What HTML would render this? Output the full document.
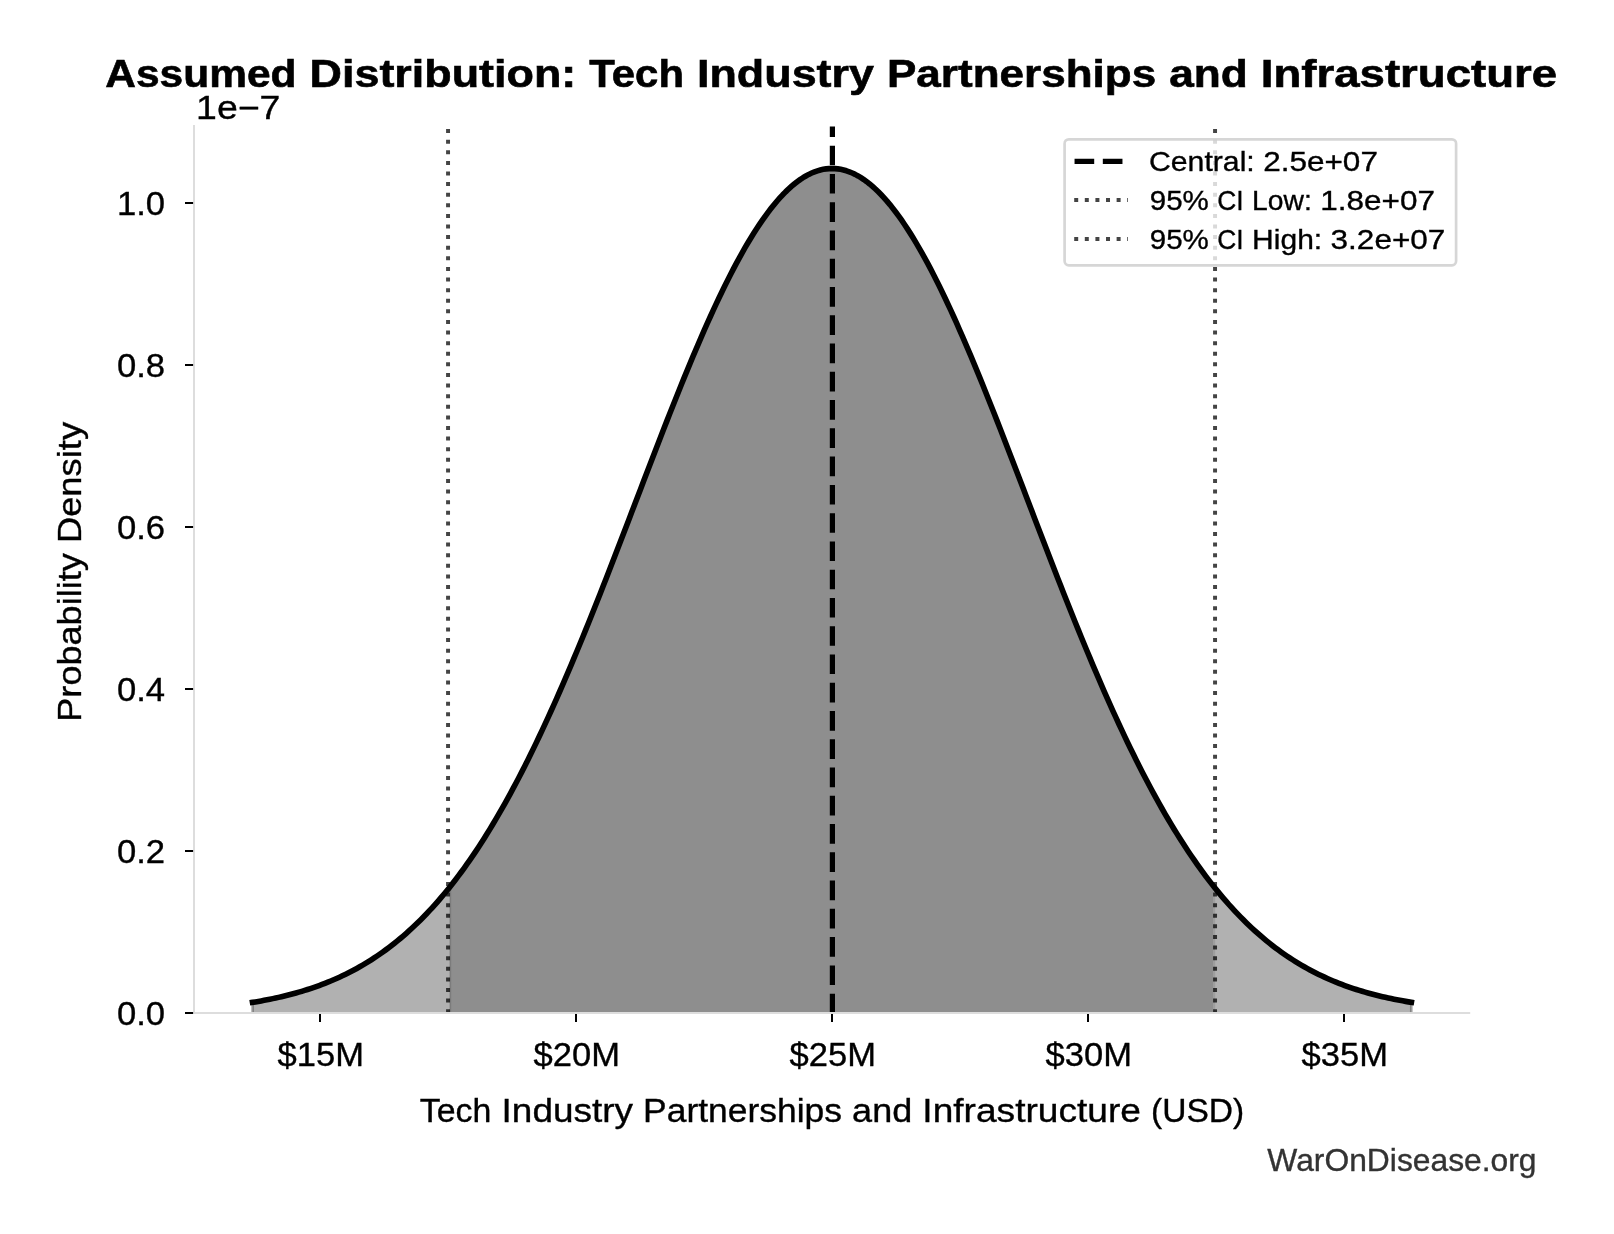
<!DOCTYPE html>
<html lang="en"><head><meta charset="utf-8"><title>Assumed Distribution: Tech Industry Partnerships and Infrastructure</title>
<style>html,body{margin:0;padding:0;background:#fff;}body{width:1614px;height:1234px;overflow:hidden;}svg{display:block;will-change:transform;}text{font-family:"Liberation Sans",sans-serif;fill:#000;stroke:#000;stroke-width:0.35px;}text.b{stroke-width:0.6px;}text.w{stroke:#333;}</style></head><body>
<svg width="1614" height="1234" viewBox="0 0 1614 1234">
<rect width="1614" height="1234" fill="#ffffff"/>
<path d="M251.20,1002.36 L252.50,1002.36 L255.40,1001.89 L258.29,1001.40 L261.19,1000.89 L264.09,1000.35 L266.99,999.80 L269.88,999.23 L272.78,998.63 L275.68,998.01 L278.58,997.37 L281.47,996.71 L284.37,996.02 L287.27,995.30 L290.16,994.56 L293.06,993.80 L295.96,993.00 L298.86,992.18 L301.75,991.32 L304.65,990.44 L307.55,989.53 L310.44,988.58 L313.34,987.61 L316.24,986.59 L319.14,985.55 L322.03,984.47 L324.93,983.35 L327.83,982.20 L330.73,981.01 L333.62,979.78 L336.52,978.51 L339.42,977.20 L342.31,975.84 L345.21,974.45 L348.11,973.01 L351.01,971.53 L353.90,970.00 L356.80,968.42 L359.70,966.80 L362.60,965.13 L365.49,963.41 L368.39,961.64 L371.29,959.81 L374.18,957.94 L377.08,956.01 L379.98,954.02 L382.88,951.98 L385.77,949.89 L388.67,947.73 L391.57,945.52 L394.47,943.24 L397.36,940.91 L400.26,938.51 L403.16,936.05 L406.05,933.53 L408.95,930.94 L411.85,928.29 L414.75,925.57 L417.64,922.78 L420.54,919.93 L423.44,917.00 L426.34,914.01 L429.23,910.94 L432.13,907.80 L435.03,904.59 L437.92,901.30 L440.82,897.94 L443.72,894.51 L446.62,891.00 L449.51,887.41 L452.41,883.75 L455.31,880.00 L458.20,876.18 L461.10,872.28 L464.00,868.30 L466.90,864.24 L469.79,860.10 L472.69,855.88 L475.59,851.58 L478.49,847.20 L481.38,842.73 L484.28,838.19 L487.18,833.56 L490.07,828.84 L492.97,824.05 L495.87,819.17 L498.77,814.21 L501.66,809.17 L504.56,804.05 L507.46,798.85 L510.36,793.56 L513.25,788.19 L516.15,782.74 L519.05,777.21 L521.94,771.60 L524.84,765.91 L527.74,760.14 L530.64,754.30 L533.53,748.37 L536.43,742.37 L539.33,736.30 L542.23,730.15 L545.12,723.93 L548.02,717.63 L550.92,711.26 L553.81,704.83 L556.71,698.32 L559.61,691.75 L562.51,685.11 L565.40,678.41 L568.30,671.65 L571.20,664.82 L574.09,657.94 L576.99,651.00 L579.89,644.00 L582.79,636.96 L585.68,629.86 L588.58,622.71 L591.48,615.52 L594.38,608.28 L597.27,601.00 L600.17,593.68 L603.07,586.32 L605.96,578.93 L608.86,571.51 L611.76,564.06 L614.66,556.59 L617.55,549.09 L620.45,541.57 L623.35,534.03 L626.25,526.48 L629.14,518.92 L632.04,511.35 L634.94,503.78 L637.83,496.21 L640.73,488.63 L643.63,481.07 L646.53,473.51 L649.42,465.96 L652.32,458.43 L655.22,450.92 L658.12,443.43 L661.01,435.97 L663.91,428.54 L666.81,421.14 L669.70,413.78 L672.60,406.46 L675.50,399.19 L678.40,391.96 L681.29,384.79 L684.19,377.67 L687.09,370.61 L689.98,363.62 L692.88,356.69 L695.78,349.83 L698.68,343.05 L701.57,336.35 L704.47,329.73 L707.37,323.20 L710.27,316.75 L713.16,310.40 L716.06,304.15 L718.96,298.00 L721.85,291.95 L724.75,286.01 L727.65,280.18 L730.55,274.47 L733.44,268.87 L736.34,263.40 L739.24,258.05 L742.14,252.83 L745.03,247.74 L747.93,242.78 L750.83,237.96 L753.72,233.28 L756.62,228.75 L759.52,224.36 L762.42,220.12 L765.31,216.03 L768.21,212.10 L771.11,208.32 L774.01,204.70 L776.90,201.24 L779.80,197.95 L782.70,194.82 L785.59,191.86 L788.49,189.07 L791.39,186.45 L794.29,184.00 L797.18,181.73 L800.08,179.63 L802.98,177.72 L805.87,175.98 L808.77,174.41 L811.67,173.03 L814.57,171.84 L817.46,170.82 L820.36,169.99 L823.26,169.34 L826.16,168.88 L829.05,168.60 L831.95,168.50 L834.85,168.59 L837.74,168.86 L840.64,169.32 L843.54,169.96 L846.44,170.79 L849.33,171.80 L852.23,172.99 L855.13,174.36 L858.03,175.92 L860.92,177.65 L863.82,179.57 L866.72,181.66 L869.61,183.92 L872.51,186.36 L875.41,188.98 L878.31,191.76 L881.20,194.72 L884.10,197.84 L887.00,201.13 L889.90,204.58 L892.79,208.19 L895.69,211.96 L898.59,215.89 L901.48,219.98 L904.38,224.21 L907.28,228.59 L910.18,233.12 L913.07,237.80 L915.97,242.61 L918.87,247.56 L921.76,252.65 L924.66,257.87 L927.56,263.21 L930.46,268.68 L933.35,274.27 L936.25,279.98 L939.15,285.81 L942.05,291.74 L944.94,297.79 L947.84,303.94 L950.74,310.19 L953.63,316.53 L956.53,322.97 L959.43,329.51 L962.33,336.12 L965.22,342.82 L968.12,349.60 L971.02,356.45 L973.92,363.38 L976.81,370.37 L979.71,377.42 L982.61,384.54 L985.50,391.71 L988.40,398.94 L991.30,406.21 L994.20,413.53 L997.09,420.89 L999.99,428.28 L1002.89,435.71 L1005.78,443.17 L1008.68,450.66 L1011.58,458.17 L1014.48,465.70 L1017.37,473.25 L1020.27,480.81 L1023.17,488.37 L1026.07,495.95 L1028.96,503.52 L1031.86,511.09 L1034.76,518.66 L1037.65,526.22 L1040.55,533.77 L1043.45,541.31 L1046.35,548.83 L1049.24,556.33 L1052.14,563.81 L1055.04,571.26 L1057.94,578.68 L1060.83,586.07 L1063.73,593.43 L1066.63,600.75 L1069.52,608.03 L1072.42,615.27 L1075.32,622.46 L1078.22,629.61 L1081.11,636.71 L1084.01,643.76 L1086.91,650.76 L1089.81,657.70 L1092.70,664.59 L1095.60,671.41 L1098.50,678.18 L1101.39,684.88 L1104.29,691.52 L1107.19,698.10 L1110.09,704.60 L1112.98,711.04 L1115.88,717.41 L1118.78,723.71 L1121.67,729.94 L1124.57,736.09 L1127.47,742.17 L1130.37,748.17 L1133.26,754.09 L1136.16,759.94 L1139.06,765.71 L1141.96,771.41 L1144.85,777.02 L1147.75,782.55 L1150.65,788.00 L1153.54,793.37 L1156.44,798.66 L1159.34,803.87 L1162.24,809.00 L1165.13,814.04 L1168.03,819.00 L1170.93,823.88 L1173.83,828.68 L1176.72,833.39 L1179.62,838.03 L1182.52,842.58 L1185.41,847.05 L1188.31,851.43 L1191.21,855.74 L1194.11,859.96 L1197.00,864.10 L1199.90,868.16 L1202.80,872.15 L1205.70,876.05 L1208.59,879.87 L1211.49,883.62 L1214.39,887.29 L1217.28,890.88 L1220.18,894.39 L1223.08,897.83 L1225.98,901.19 L1228.87,904.48 L1231.77,907.69 L1234.67,910.83 L1237.57,913.90 L1240.46,916.90 L1243.36,919.83 L1246.26,922.69 L1249.15,925.48 L1252.05,928.20 L1254.95,930.85 L1257.85,933.44 L1260.74,935.97 L1263.64,938.43 L1266.54,940.83 L1269.43,943.16 L1272.33,945.44 L1275.23,947.66 L1278.13,949.81 L1281.02,951.91 L1283.92,953.95 L1286.82,955.94 L1289.72,957.87 L1292.61,959.75 L1295.51,961.58 L1298.41,963.35 L1301.30,965.07 L1304.20,966.74 L1307.10,968.37 L1310.00,969.95 L1312.89,971.48 L1315.79,972.96 L1318.69,974.40 L1321.59,975.80 L1324.48,977.15 L1327.38,978.46 L1330.28,979.73 L1333.17,980.97 L1336.07,982.16 L1338.97,983.31 L1341.87,984.43 L1344.76,985.51 L1347.66,986.56 L1350.56,987.57 L1353.46,988.55 L1356.35,989.50 L1359.25,990.41 L1362.15,991.29 L1365.04,992.15 L1367.94,992.97 L1370.84,993.77 L1373.74,994.54 L1376.63,995.28 L1379.53,995.99 L1382.43,996.68 L1385.32,997.35 L1388.22,997.99 L1391.12,998.61 L1394.02,999.21 L1396.91,999.78 L1399.81,1000.33 L1402.71,1000.87 L1405.61,1001.38 L1408.50,1001.87 L1411.40,1002.35 L1412.70,1002.35 L1412.70,1013.0 L251.20,1013.0 Z" fill="#b1b1b1"/>
<path d="M449.70,887.18 L452.24,883.96 L454.79,880.68 L457.33,877.34 L459.88,873.94 L462.42,870.48 L464.97,866.96 L467.51,863.37 L470.05,859.73 L472.60,856.02 L475.14,852.25 L477.69,848.41 L480.23,844.52 L482.78,840.56 L485.32,836.53 L487.87,832.45 L490.41,828.29 L492.95,824.08 L495.50,819.80 L498.04,815.46 L500.59,811.06 L503.13,806.59 L505.68,802.06 L508.22,797.46 L510.76,792.81 L513.31,788.09 L515.85,783.30 L518.40,778.46 L520.94,773.55 L523.49,768.58 L526.03,763.56 L528.57,758.47 L531.12,753.32 L533.66,748.11 L536.21,742.84 L538.75,737.51 L541.30,732.13 L543.84,726.69 L546.38,721.19 L548.93,715.64 L551.47,710.03 L554.02,704.37 L556.56,698.66 L559.11,692.89 L561.65,687.08 L564.19,681.21 L566.74,675.30 L569.28,669.34 L571.83,663.33 L574.37,657.28 L576.92,651.18 L579.46,645.04 L582.01,638.86 L584.55,632.64 L587.09,626.38 L589.64,620.09 L592.18,613.76 L594.73,607.40 L597.27,601.00 L599.82,594.58 L602.36,588.12 L604.90,581.64 L607.45,575.14 L609.99,568.61 L612.54,562.06 L615.08,555.49 L617.63,548.90 L620.17,542.30 L622.71,535.68 L625.26,529.06 L627.80,522.42 L630.35,515.78 L632.89,509.13 L635.44,502.48 L637.98,495.82 L640.52,489.17 L643.07,482.53 L645.61,475.89 L648.16,469.26 L650.70,462.64 L653.25,456.03 L655.79,449.44 L658.34,442.86 L660.88,436.31 L663.42,429.78 L665.97,423.28 L668.51,416.80 L671.06,410.36 L673.60,403.94 L676.15,397.57 L678.69,391.23 L681.23,384.93 L683.78,378.68 L686.32,372.47 L688.87,366.31 L691.41,360.20 L693.96,354.14 L696.50,348.14 L699.04,342.20 L701.59,336.32 L704.13,330.50 L706.68,324.75 L709.22,319.07 L711.77,313.45 L714.31,307.92 L716.86,302.45 L719.40,297.07 L721.94,291.77 L724.49,286.55 L727.03,281.41 L729.58,276.37 L732.12,271.41 L734.67,266.55 L737.21,261.78 L739.75,257.11 L742.30,252.54 L744.84,248.07 L747.39,243.70 L749.93,239.44 L752.48,235.28 L755.02,231.24 L757.56,227.30 L760.11,223.48 L762.65,219.78 L765.20,216.19 L767.74,212.72 L770.29,209.38 L772.83,206.15 L775.37,203.05 L777.92,200.07 L780.46,197.22 L783.01,194.50 L785.55,191.90 L788.10,189.44 L790.64,187.11 L793.18,184.91 L795.73,182.85 L798.27,180.92 L800.82,179.13 L803.36,177.47 L805.91,175.96 L808.45,174.58 L811.00,173.34 L813.54,172.24 L816.08,171.28 L818.63,170.46 L821.17,169.79 L823.72,169.25 L826.26,168.86 L828.81,168.61 L831.35,168.50 L833.89,168.54 L836.44,168.72 L838.98,169.04 L841.53,169.50 L844.07,170.10 L846.62,170.85 L849.16,171.73 L851.70,172.76 L854.25,173.93 L856.79,175.24 L859.34,176.68 L861.88,178.27 L864.43,179.99 L866.97,181.85 L869.51,183.84 L872.06,185.97 L874.60,188.23 L877.15,190.63 L879.69,193.16 L882.24,195.81 L884.78,198.60 L887.33,201.51 L889.87,204.55 L892.41,207.71 L894.96,211.00 L897.50,214.41 L900.05,217.93 L902.59,221.58 L905.14,225.34 L907.68,229.21 L910.22,233.20 L912.77,237.30 L915.31,241.51 L917.86,245.82 L920.40,250.24 L922.95,254.76 L925.49,259.38 L928.03,264.10 L930.58,268.91 L933.12,273.82 L935.67,278.82 L938.21,283.91 L940.76,289.09 L943.30,294.35 L945.85,299.69 L948.39,305.11 L950.93,310.61 L953.48,316.19 L956.02,321.84 L958.57,327.55 L961.11,333.34 L963.66,339.19 L966.20,345.10 L968.74,351.07 L971.29,357.10 L973.83,363.18 L976.38,369.31 L978.92,375.50 L981.47,381.73 L984.01,388.01 L986.55,394.32 L989.10,400.68 L991.64,407.08 L994.19,413.51 L996.73,419.97 L999.28,426.46 L1001.82,432.97 L1004.36,439.51 L1006.91,446.08 L1009.45,452.66 L1012.00,459.26 L1014.54,465.87 L1017.09,472.50 L1019.63,479.13 L1022.17,485.78 L1024.72,492.43 L1027.26,499.08 L1029.81,505.73 L1032.35,512.38 L1034.90,519.03 L1037.44,525.67 L1039.99,532.30 L1042.53,538.92 L1045.07,545.53 L1047.62,552.12 L1050.16,558.70 L1052.71,565.26 L1055.25,571.80 L1057.80,578.32 L1060.34,584.81 L1062.88,591.28 L1065.43,597.72 L1067.97,604.13 L1070.52,610.51 L1073.06,616.86 L1075.61,623.17 L1078.15,629.45 L1080.69,635.69 L1083.24,641.89 L1085.78,648.05 L1088.33,654.17 L1090.87,660.24 L1093.42,666.27 L1095.96,672.26 L1098.50,678.20 L1101.05,684.09 L1103.59,689.93 L1106.14,695.72 L1108.68,701.46 L1111.23,707.15 L1113.77,712.78 L1116.32,718.36 L1118.86,723.89 L1121.40,729.36 L1123.95,734.77 L1126.49,740.13 L1129.04,745.42 L1131.58,750.66 L1134.13,755.84 L1136.67,760.96 L1139.21,766.02 L1141.76,771.02 L1144.30,775.96 L1146.85,780.84 L1149.39,785.65 L1151.94,790.40 L1154.48,795.09 L1157.02,799.72 L1159.57,804.28 L1162.11,808.78 L1164.66,813.22 L1167.20,817.59 L1169.75,821.90 L1172.29,826.15 L1174.84,830.33 L1177.38,834.45 L1179.92,838.51 L1182.47,842.50 L1185.01,846.43 L1187.56,850.30 L1190.10,854.10 L1192.65,857.84 L1195.19,861.52 L1197.73,865.13 L1200.28,868.69 L1202.82,872.18 L1205.37,875.61 L1207.91,878.98 L1210.46,882.29 L1213.00,885.54 L1213.00,1013.0 L449.70,1013.0 Z" fill="#8e8e8e"/>
<path d="M253.20,1002.36 V1013.0" stroke="#828282" stroke-width="1.5" fill="none"/>
<path d="M1410.70,1002.35 V1013.0" stroke="#828282" stroke-width="1.5" fill="none"/>
<path d="M450.50,886.17 V1013.0" stroke="#7c7c7c" stroke-width="1.5" fill="none"/>
<path d="M1214.10,886.93 V1013.0" stroke="#9e9e9e" stroke-width="2.2" fill="none"/>
<path d="M252.50,1002.36 L255.40,1001.89 L258.29,1001.40 L261.19,1000.89 L264.09,1000.35 L266.99,999.80 L269.88,999.23 L272.78,998.63 L275.68,998.01 L278.58,997.37 L281.47,996.71 L284.37,996.02 L287.27,995.30 L290.16,994.56 L293.06,993.80 L295.96,993.00 L298.86,992.18 L301.75,991.32 L304.65,990.44 L307.55,989.53 L310.44,988.58 L313.34,987.61 L316.24,986.59 L319.14,985.55 L322.03,984.47 L324.93,983.35 L327.83,982.20 L330.73,981.01 L333.62,979.78 L336.52,978.51 L339.42,977.20 L342.31,975.84 L345.21,974.45 L348.11,973.01 L351.01,971.53 L353.90,970.00 L356.80,968.42 L359.70,966.80 L362.60,965.13 L365.49,963.41 L368.39,961.64 L371.29,959.81 L374.18,957.94 L377.08,956.01 L379.98,954.02 L382.88,951.98 L385.77,949.89 L388.67,947.73 L391.57,945.52 L394.47,943.24 L397.36,940.91 L400.26,938.51 L403.16,936.05 L406.05,933.53 L408.95,930.94 L411.85,928.29 L414.75,925.57 L417.64,922.78 L420.54,919.93 L423.44,917.00 L426.34,914.01 L429.23,910.94 L432.13,907.80 L435.03,904.59 L437.92,901.30 L440.82,897.94 L443.72,894.51 L446.62,891.00 L449.51,887.41 L452.41,883.75 L455.31,880.00 L458.20,876.18 L461.10,872.28 L464.00,868.30 L466.90,864.24 L469.79,860.10 L472.69,855.88 L475.59,851.58 L478.49,847.20 L481.38,842.73 L484.28,838.19 L487.18,833.56 L490.07,828.84 L492.97,824.05 L495.87,819.17 L498.77,814.21 L501.66,809.17 L504.56,804.05 L507.46,798.85 L510.36,793.56 L513.25,788.19 L516.15,782.74 L519.05,777.21 L521.94,771.60 L524.84,765.91 L527.74,760.14 L530.64,754.30 L533.53,748.37 L536.43,742.37 L539.33,736.30 L542.23,730.15 L545.12,723.93 L548.02,717.63 L550.92,711.26 L553.81,704.83 L556.71,698.32 L559.61,691.75 L562.51,685.11 L565.40,678.41 L568.30,671.65 L571.20,664.82 L574.09,657.94 L576.99,651.00 L579.89,644.00 L582.79,636.96 L585.68,629.86 L588.58,622.71 L591.48,615.52 L594.38,608.28 L597.27,601.00 L600.17,593.68 L603.07,586.32 L605.96,578.93 L608.86,571.51 L611.76,564.06 L614.66,556.59 L617.55,549.09 L620.45,541.57 L623.35,534.03 L626.25,526.48 L629.14,518.92 L632.04,511.35 L634.94,503.78 L637.83,496.21 L640.73,488.63 L643.63,481.07 L646.53,473.51 L649.42,465.96 L652.32,458.43 L655.22,450.92 L658.12,443.43 L661.01,435.97 L663.91,428.54 L666.81,421.14 L669.70,413.78 L672.60,406.46 L675.50,399.19 L678.40,391.96 L681.29,384.79 L684.19,377.67 L687.09,370.61 L689.98,363.62 L692.88,356.69 L695.78,349.83 L698.68,343.05 L701.57,336.35 L704.47,329.73 L707.37,323.20 L710.27,316.75 L713.16,310.40 L716.06,304.15 L718.96,298.00 L721.85,291.95 L724.75,286.01 L727.65,280.18 L730.55,274.47 L733.44,268.87 L736.34,263.40 L739.24,258.05 L742.14,252.83 L745.03,247.74 L747.93,242.78 L750.83,237.96 L753.72,233.28 L756.62,228.75 L759.52,224.36 L762.42,220.12 L765.31,216.03 L768.21,212.10 L771.11,208.32 L774.01,204.70 L776.90,201.24 L779.80,197.95 L782.70,194.82 L785.59,191.86 L788.49,189.07 L791.39,186.45 L794.29,184.00 L797.18,181.73 L800.08,179.63 L802.98,177.72 L805.87,175.98 L808.77,174.41 L811.67,173.03 L814.57,171.84 L817.46,170.82 L820.36,169.99 L823.26,169.34 L826.16,168.88 L829.05,168.60 L831.95,168.50 L834.85,168.59 L837.74,168.86 L840.64,169.32 L843.54,169.96 L846.44,170.79 L849.33,171.80 L852.23,172.99 L855.13,174.36 L858.03,175.92 L860.92,177.65 L863.82,179.57 L866.72,181.66 L869.61,183.92 L872.51,186.36 L875.41,188.98 L878.31,191.76 L881.20,194.72 L884.10,197.84 L887.00,201.13 L889.90,204.58 L892.79,208.19 L895.69,211.96 L898.59,215.89 L901.48,219.98 L904.38,224.21 L907.28,228.59 L910.18,233.12 L913.07,237.80 L915.97,242.61 L918.87,247.56 L921.76,252.65 L924.66,257.87 L927.56,263.21 L930.46,268.68 L933.35,274.27 L936.25,279.98 L939.15,285.81 L942.05,291.74 L944.94,297.79 L947.84,303.94 L950.74,310.19 L953.63,316.53 L956.53,322.97 L959.43,329.51 L962.33,336.12 L965.22,342.82 L968.12,349.60 L971.02,356.45 L973.92,363.38 L976.81,370.37 L979.71,377.42 L982.61,384.54 L985.50,391.71 L988.40,398.94 L991.30,406.21 L994.20,413.53 L997.09,420.89 L999.99,428.28 L1002.89,435.71 L1005.78,443.17 L1008.68,450.66 L1011.58,458.17 L1014.48,465.70 L1017.37,473.25 L1020.27,480.81 L1023.17,488.37 L1026.07,495.95 L1028.96,503.52 L1031.86,511.09 L1034.76,518.66 L1037.65,526.22 L1040.55,533.77 L1043.45,541.31 L1046.35,548.83 L1049.24,556.33 L1052.14,563.81 L1055.04,571.26 L1057.94,578.68 L1060.83,586.07 L1063.73,593.43 L1066.63,600.75 L1069.52,608.03 L1072.42,615.27 L1075.32,622.46 L1078.22,629.61 L1081.11,636.71 L1084.01,643.76 L1086.91,650.76 L1089.81,657.70 L1092.70,664.59 L1095.60,671.41 L1098.50,678.18 L1101.39,684.88 L1104.29,691.52 L1107.19,698.10 L1110.09,704.60 L1112.98,711.04 L1115.88,717.41 L1118.78,723.71 L1121.67,729.94 L1124.57,736.09 L1127.47,742.17 L1130.37,748.17 L1133.26,754.09 L1136.16,759.94 L1139.06,765.71 L1141.96,771.41 L1144.85,777.02 L1147.75,782.55 L1150.65,788.00 L1153.54,793.37 L1156.44,798.66 L1159.34,803.87 L1162.24,809.00 L1165.13,814.04 L1168.03,819.00 L1170.93,823.88 L1173.83,828.68 L1176.72,833.39 L1179.62,838.03 L1182.52,842.58 L1185.41,847.05 L1188.31,851.43 L1191.21,855.74 L1194.11,859.96 L1197.00,864.10 L1199.90,868.16 L1202.80,872.15 L1205.70,876.05 L1208.59,879.87 L1211.49,883.62 L1214.39,887.29 L1217.28,890.88 L1220.18,894.39 L1223.08,897.83 L1225.98,901.19 L1228.87,904.48 L1231.77,907.69 L1234.67,910.83 L1237.57,913.90 L1240.46,916.90 L1243.36,919.83 L1246.26,922.69 L1249.15,925.48 L1252.05,928.20 L1254.95,930.85 L1257.85,933.44 L1260.74,935.97 L1263.64,938.43 L1266.54,940.83 L1269.43,943.16 L1272.33,945.44 L1275.23,947.66 L1278.13,949.81 L1281.02,951.91 L1283.92,953.95 L1286.82,955.94 L1289.72,957.87 L1292.61,959.75 L1295.51,961.58 L1298.41,963.35 L1301.30,965.07 L1304.20,966.74 L1307.10,968.37 L1310.00,969.95 L1312.89,971.48 L1315.79,972.96 L1318.69,974.40 L1321.59,975.80 L1324.48,977.15 L1327.38,978.46 L1330.28,979.73 L1333.17,980.97 L1336.07,982.16 L1338.97,983.31 L1341.87,984.43 L1344.76,985.51 L1347.66,986.56 L1350.56,987.57 L1353.46,988.55 L1356.35,989.50 L1359.25,990.41 L1362.15,991.29 L1365.04,992.15 L1367.94,992.97 L1370.84,993.77 L1373.74,994.54 L1376.63,995.28 L1379.53,995.99 L1382.43,996.68 L1385.32,997.35 L1388.22,997.99 L1391.12,998.61 L1394.02,999.21 L1396.91,999.78 L1399.81,1000.33 L1402.71,1000.87 L1405.61,1001.38 L1408.50,1001.87 L1411.40,1002.35" fill="none" stroke="#000" stroke-width="5.6" stroke-linecap="square" stroke-linejoin="round"/>
<path d="M832.4,1013.3 V126.6" fill="none" stroke="#000" stroke-width="5.2" stroke-dasharray="19.65 8.615"/>
<path d="M448.05,1013.2 V126.3" fill="none" stroke="rgba(0,0,0,0.735)" stroke-width="3.95" stroke-dasharray="4.0 6.604"/>
<path d="M1215.05,1013.2 V126.3" fill="none" stroke="rgba(0,0,0,0.735)" stroke-width="3.95" stroke-dasharray="4.0 6.604"/>
<path d="M194.0,125.1 V1014.0" stroke="#dddddd" stroke-width="2" fill="none"/>
<path d="M193.0,1013.0 H1470.2" stroke="#dddddd" stroke-width="2" fill="none"/>
<rect x="185" y="1012" width="8.1" height="2" fill="#000"/>
<rect x="185" y="850" width="8.1" height="2" fill="#000"/>
<rect x="185" y="688" width="8.1" height="2" fill="#000"/>
<rect x="185" y="526" width="8.1" height="2" fill="#000"/>
<rect x="185" y="364" width="8.1" height="2" fill="#000"/>
<rect x="185" y="202" width="8.1" height="2" fill="#000"/>
<rect x="319" y="1014" width="2" height="8" fill="#000"/>
<rect x="575" y="1014" width="2" height="8" fill="#000"/>
<rect x="831" y="1014" width="2" height="8" fill="#000"/>
<rect x="1087" y="1014" width="2" height="8" fill="#000"/>
<rect x="1343" y="1014" width="2" height="8" fill="#000"/>
<rect x="1064.6" y="139.3" width="391.5" height="126" rx="4.2" ry="4.2" fill="#ffffff" fill-opacity="0.8" stroke="#cccccc" stroke-opacity="0.8" stroke-width="2.67"/>
<path d="M1074.55,161.45 H1128.4" stroke="#000" stroke-width="5.2" stroke-dasharray="19.65 8.615" fill="none"/>
<path d="M1074.2,199.95 H1128.0" stroke="rgba(0,0,0,0.735)" stroke-width="3.95" stroke-dasharray="4.0 6.604" fill="none"/>
<path d="M1074.2,238.9 H1128.0" stroke="rgba(0,0,0,0.735)" stroke-width="3.95" stroke-dasharray="4.0 6.604" fill="none"/>
<text font-size="39.2" font-weight="bold" class="b"><tspan x="105.31" y="87.0" textLength="191.24" lengthAdjust="spacingAndGlyphs">Assumed</tspan> <tspan x="309.58" y="87.0" textLength="266.7" lengthAdjust="spacingAndGlyphs">Distribution:</tspan> <tspan x="589.3" y="87.0" textLength="94.69" lengthAdjust="spacingAndGlyphs">Tech</tspan> <tspan x="697.01" y="87.0" textLength="176.94" lengthAdjust="spacingAndGlyphs">Industry</tspan> <tspan x="886.97" y="87.0" textLength="269.2" lengthAdjust="spacingAndGlyphs">Partnerships</tspan> <tspan x="1169.2" y="87.0" textLength="78.65" lengthAdjust="spacingAndGlyphs">and</tspan> <tspan x="1260.87" y="87.0" textLength="296.25" lengthAdjust="spacingAndGlyphs">Infrastructure</tspan></text>
<text font-size="33.0"><tspan x="196.07" y="118.9" textLength="84.33" lengthAdjust="spacingAndGlyphs">1e−7</tspan></text>
<text font-size="33.0"><tspan x="116.98" y="1024.6" textLength="48.18" lengthAdjust="spacingAndGlyphs">0.0</tspan></text>
<text font-size="33.0"><tspan x="116.98" y="862.6" textLength="48.18" lengthAdjust="spacingAndGlyphs">0.2</tspan></text>
<text font-size="33.0"><tspan x="116.98" y="700.6" textLength="48.18" lengthAdjust="spacingAndGlyphs">0.4</tspan></text>
<text font-size="33.0"><tspan x="116.98" y="538.6" textLength="48.18" lengthAdjust="spacingAndGlyphs">0.6</tspan></text>
<text font-size="33.0"><tspan x="116.98" y="376.6" textLength="48.18" lengthAdjust="spacingAndGlyphs">0.8</tspan></text>
<text font-size="33.0"><tspan x="116.98" y="214.6" textLength="48.18" lengthAdjust="spacingAndGlyphs">1.0</tspan></text>
<text font-size="33.0"><tspan x="277.6" y="1065.9" textLength="86.33" lengthAdjust="spacingAndGlyphs">$15M</tspan></text>
<text font-size="33.0"><tspan x="533.6" y="1065.9" textLength="86.33" lengthAdjust="spacingAndGlyphs">$20M</tspan></text>
<text font-size="33.0"><tspan x="789.6" y="1065.9" textLength="86.33" lengthAdjust="spacingAndGlyphs">$25M</tspan></text>
<text font-size="33.0"><tspan x="1045.6" y="1065.9" textLength="86.33" lengthAdjust="spacingAndGlyphs">$30M</tspan></text>
<text font-size="33.0"><tspan x="1301.6" y="1065.9" textLength="86.33" lengthAdjust="spacingAndGlyphs">$35M</tspan></text>
<text font-size="33.0"><tspan x="419.82" y="1122.3" textLength="71.61" lengthAdjust="spacingAndGlyphs">Tech</tspan> <tspan x="501.58" y="1122.3" textLength="131.39" lengthAdjust="spacingAndGlyphs">Industry</tspan> <tspan x="643.13" y="1122.3" textLength="198.83" lengthAdjust="spacingAndGlyphs">Partnerships</tspan> <tspan x="852.11" y="1122.3" textLength="60.1" lengthAdjust="spacingAndGlyphs">and</tspan> <tspan x="922.36" y="1122.3" textLength="218.53" lengthAdjust="spacingAndGlyphs">Infrastructure</tspan> <tspan x="1151.05" y="1122.3" textLength="93.18" lengthAdjust="spacingAndGlyphs">(USD)</tspan></text>
<text font-size="33.0" transform="rotate(-90)"><tspan x="-721.71" y="81.3" textLength="168.49" lengthAdjust="spacingAndGlyphs">Probability</tspan> <tspan x="-543.09" y="81.3" textLength="121.17" lengthAdjust="spacingAndGlyphs">Density</tspan></text>
<text font-size="30.7" class="w" style="fill:#333333"><tspan x="1267.35" y="1170.5" textLength="269.18" lengthAdjust="spacingAndGlyphs">WarOnDisease.org</tspan></text>
<text font-size="27.9"><tspan x="1149.0" y="170.8" textLength="105.74" lengthAdjust="spacingAndGlyphs">Central:</tspan> <tspan x="1263.19" y="170.8" textLength="114.72" lengthAdjust="spacingAndGlyphs">2.5e+07</tspan></text>
<text font-size="27.9"><tspan x="1149.78" y="209.8" textLength="59.04" lengthAdjust="spacingAndGlyphs">95%</tspan> <tspan x="1217.26" y="209.8" textLength="26.38" lengthAdjust="spacingAndGlyphs">CI</tspan> <tspan x="1252.09" y="209.8" textLength="59.73" lengthAdjust="spacingAndGlyphs">Low:</tspan> <tspan x="1320.26" y="209.8" textLength="114.65" lengthAdjust="spacingAndGlyphs">1.8e+07</tspan></text>
<text font-size="27.9"><tspan x="1149.78" y="248.7" textLength="59.07" lengthAdjust="spacingAndGlyphs">95%</tspan> <tspan x="1217.29" y="248.7" textLength="26.39" lengthAdjust="spacingAndGlyphs">CI</tspan> <tspan x="1252.13" y="248.7" textLength="70.03" lengthAdjust="spacingAndGlyphs">High:</tspan> <tspan x="1330.61" y="248.7" textLength="114.7" lengthAdjust="spacingAndGlyphs">3.2e+07</tspan></text>
</svg></body></html>
